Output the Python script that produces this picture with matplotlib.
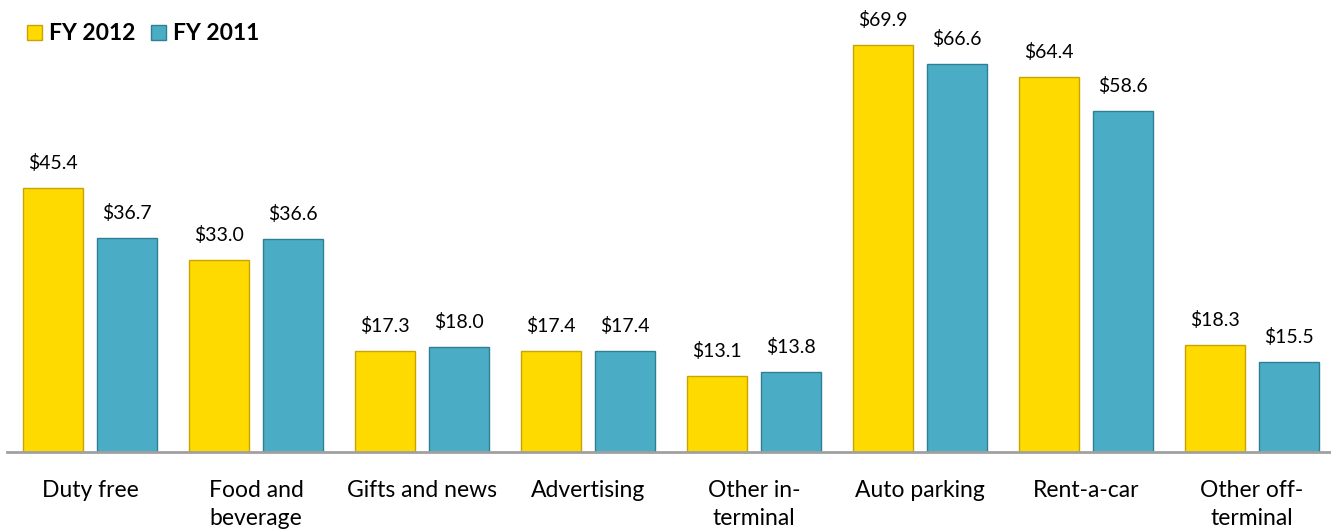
import numpy as np
import matplotlib
matplotlib.use("Agg")
from matplotlib import pyplot as plt
from matplotlib.patches import Patch

# chart data
categories = ["Duty free", "Food and\nbeverage", "Gifts and news", "Advertising",
              "Other in-\nterminal", "Auto parking", "Rent-a-car", "Other off-\nterminal"]
fy2012 = [45.4, 33.0, 17.3, 17.4, 13.1, 69.9, 64.4, 18.3]
fy2011 = [36.7, 36.6, 18.0, 17.4, 13.8, 66.6, 58.6, 15.5]
series_names = ["FY 2012", "FY 2011"]

plt.rcParams["font.family"] = ["Lato", "DejaVu Sans"]

fig = plt.figure(figsize=(13.31, 5.31), dpi=100)
ax = fig.add_axes([7 / 1331, 1 - 452 / 531, 1328 / 1331, 452 / 531])

x = np.arange(len(categories))
width = 60 / 166
offset = 37 / 166

yellow = "#FFDA00"
blue = "#4BACC6"

bars1 = ax.bar(x - offset, fy2012, width, color=yellow, edgecolor="#C9A400", linewidth=1)
bars2 = ax.bar(x + offset, fy2011, width, color=blue, edgecolor="#2F7F94", linewidth=1)

for bars in (bars1, bars2):
    for b in bars:
        ax.annotate("${:.1f}".format(b.get_height()),
                    (b.get_x() + b.get_width() / 2, b.get_height()),
                    xytext=(0, 18), textcoords="offset points",
                    ha="center", va="center", fontsize=14)

ax.set_xlim(-0.5, 7.5)
ax.set_ylim(0, 452 / 5.82)
ax.set_xticks(x)
ax.set_xticklabels(categories, fontsize=16.5, linespacing=1.4)
ax.tick_params(axis="x", length=0, pad=20)
ax.set_yticks([])
for s in ["top", "right", "left"]:
    ax.spines[s].set_visible(False)
ax.spines["bottom"].set_color("#A0A0A0")
ax.spines["bottom"].set_linewidth(2)

handles = [Patch(facecolor=yellow, edgecolor="#C9A400"),
           Patch(facecolor=blue, edgecolor="#2F7F94")]
fig.legend(handles, series_names, loc="upper left", bbox_to_anchor=(0.005, 0.995),
           ncol=2, frameon=False, handlelength=0.65, handleheight=0.65,
           handletextpad=0.3, columnspacing=0.7,
           prop={"weight": "bold", "size": 16.5})

fig.savefig("out.png", dpi=100)
